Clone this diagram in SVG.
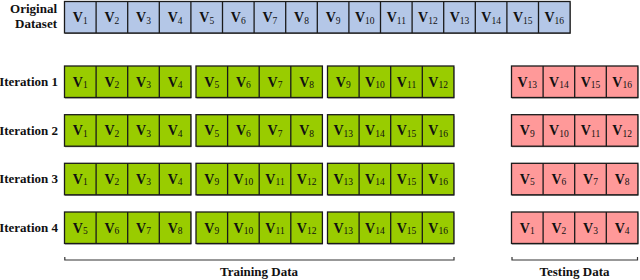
<svg xmlns="http://www.w3.org/2000/svg" width="640" height="280" viewBox="0 0 640 280" font-family="'Liberation Serif', 'Times New Roman', 'DejaVu Serif', serif">
<style>
.lbl{font-family:'Liberation Serif','Times New Roman','DejaVu Serif',serif;font-weight:bold;font-size:13px;fill:#111}
.v{font-family:'Liberation Serif','Times New Roman','DejaVu Serif',serif;font-weight:bold;font-size:14px;fill:#111;text-anchor:middle}
.s{font-weight:normal;font-size:9.5px}
.blue{fill:#b4c7e7;stroke:#1a1a1a;stroke-width:1.3}
.green{fill:#99cc00;stroke:#1a1a1a;stroke-width:1.3}
.pink{fill:#ff9999;stroke:#1a1a1a;stroke-width:1.3}
.sh{fill:#777}
.div{stroke:#1a1a1a;stroke-width:1.3}
.br{fill:none;stroke:#333;stroke-width:1.2}
</style>
<defs>
<g id="div4"><line class="div" x1="31.6" y1="0" x2="31.6" y2="31.5"/><line class="div" x1="63.2" y1="0" x2="63.2" y2="31.5"/><line class="div" x1="94.8" y1="0" x2="94.8" y2="31.5"/></g>
</defs>

<g id="labels">
<text class="lbl" x="57" y="13" text-anchor="end">Original</text>
<text class="lbl" x="57" y="28" text-anchor="end">Dataset</text>
<text class="lbl" x="58" y="86" text-anchor="end">Iteration 1</text>
<text class="lbl" x="58" y="134.5" text-anchor="end">Iteration 2</text>
<text class="lbl" x="58" y="183" text-anchor="end">Iteration 3</text>
<text class="lbl" x="58" y="232" text-anchor="end">Iteration 4</text>
</g>

<g id="original" transform="translate(64.5,1.5)">
<rect class="sh" x="0.5" y="1" width="505.6" height="31.5"/>
<rect class="blue" x="0" y="0" width="505.6" height="31.5"/>
<use href="#div4"/><use href="#div4" x="126.4"/><use href="#div4" x="252.8"/><use href="#div4" x="379.2"/>
<line class="div" x1="126.4" y1="0" x2="126.4" y2="31.5"/><line class="div" x1="252.8" y1="0" x2="252.8" y2="31.5"/><line class="div" x1="379.2" y1="0" x2="379.2" y2="31.5"/>
<text class="v" x="15.8" y="20.5">V<tspan class="s" dy="1.5">1</tspan></text>
<text class="v" x="47.4" y="20.5">V<tspan class="s" dy="1.5">2</tspan></text>
<text class="v" x="79" y="20.5">V<tspan class="s" dy="1.5">3</tspan></text>
<text class="v" x="110.6" y="20.5">V<tspan class="s" dy="1.5">4</tspan></text>
<text class="v" x="142.2" y="20.5">V<tspan class="s" dy="1.5">5</tspan></text>
<text class="v" x="173.8" y="20.5">V<tspan class="s" dy="1.5">6</tspan></text>
<text class="v" x="205.4" y="20.5">V<tspan class="s" dy="1.5">7</tspan></text>
<text class="v" x="237" y="20.5">V<tspan class="s" dy="1.5">8</tspan></text>
<text class="v" x="268.6" y="20.5">V<tspan class="s" dy="1.5">9</tspan></text>
<text class="v" x="300.2" y="20.5">V<tspan class="s" dy="1.5">10</tspan></text>
<text class="v" x="331.8" y="20.5">V<tspan class="s" dy="1.5">11</tspan></text>
<text class="v" x="363.4" y="20.5">V<tspan class="s" dy="1.5">12</tspan></text>
<text class="v" x="395" y="20.5">V<tspan class="s" dy="1.5">13</tspan></text>
<text class="v" x="426.6" y="20.5">V<tspan class="s" dy="1.5">14</tspan></text>
<text class="v" x="458.2" y="20.5">V<tspan class="s" dy="1.5">15</tspan></text>
<text class="v" x="489.8" y="20.5">V<tspan class="s" dy="1.5">16</tspan></text>
</g>

<!-- Iteration 1 -->
<g id="it1-a" transform="translate(64.5,66)"><rect class="sh" x="0.5" y="1" width="126.4" height="31.5"/><rect class="green" width="126.4" height="31.5"/><use href="#div4"/>
<text class="v" x="15.8" y="20.5">V<tspan class="s" dy="1.5">1</tspan></text><text class="v" x="47.4" y="20.5">V<tspan class="s" dy="1.5">2</tspan></text><text class="v" x="79" y="20.5">V<tspan class="s" dy="1.5">3</tspan></text><text class="v" x="110.6" y="20.5">V<tspan class="s" dy="1.5">4</tspan></text></g>
<g id="it1-b" transform="translate(196,66)"><rect class="sh" x="0.5" y="1" width="126.4" height="31.5"/><rect class="green" width="126.4" height="31.5"/><use href="#div4"/>
<text class="v" x="15.8" y="20.5">V<tspan class="s" dy="1.5">5</tspan></text><text class="v" x="47.4" y="20.5">V<tspan class="s" dy="1.5">6</tspan></text><text class="v" x="79" y="20.5">V<tspan class="s" dy="1.5">7</tspan></text><text class="v" x="110.6" y="20.5">V<tspan class="s" dy="1.5">8</tspan></text></g>
<g id="it1-c" transform="translate(327.5,66)"><rect class="sh" x="0.5" y="1" width="126.4" height="31.5"/><rect class="green" width="126.4" height="31.5"/><use href="#div4"/>
<text class="v" x="15.8" y="20.5">V<tspan class="s" dy="1.5">9</tspan></text><text class="v" x="47.4" y="20.5">V<tspan class="s" dy="1.5">10</tspan></text><text class="v" x="79" y="20.5">V<tspan class="s" dy="1.5">11</tspan></text><text class="v" x="110.6" y="20.5">V<tspan class="s" dy="1.5">12</tspan></text></g>
<g id="it1-t" transform="translate(511.5,66)"><rect class="sh" x="0.5" y="1" width="126.4" height="31.5"/><rect class="pink" width="126.4" height="31.5"/><use href="#div4"/>
<text class="v" x="15.8" y="20.5">V<tspan class="s" dy="1.5">13</tspan></text><text class="v" x="47.4" y="20.5">V<tspan class="s" dy="1.5">14</tspan></text><text class="v" x="79" y="20.5">V<tspan class="s" dy="1.5">15</tspan></text><text class="v" x="110.6" y="20.5">V<tspan class="s" dy="1.5">16</tspan></text></g>

<!-- Iteration 2 -->
<g id="it2-a" transform="translate(64.5,114.7)"><rect class="sh" x="0.5" y="1" width="126.4" height="31.5"/><rect class="green" width="126.4" height="31.5"/><use href="#div4"/>
<text class="v" x="15.8" y="20.5">V<tspan class="s" dy="1.5">1</tspan></text><text class="v" x="47.4" y="20.5">V<tspan class="s" dy="1.5">2</tspan></text><text class="v" x="79" y="20.5">V<tspan class="s" dy="1.5">3</tspan></text><text class="v" x="110.6" y="20.5">V<tspan class="s" dy="1.5">4</tspan></text></g>
<g id="it2-b" transform="translate(196,114.7)"><rect class="sh" x="0.5" y="1" width="126.4" height="31.5"/><rect class="green" width="126.4" height="31.5"/><use href="#div4"/>
<text class="v" x="15.8" y="20.5">V<tspan class="s" dy="1.5">5</tspan></text><text class="v" x="47.4" y="20.5">V<tspan class="s" dy="1.5">6</tspan></text><text class="v" x="79" y="20.5">V<tspan class="s" dy="1.5">7</tspan></text><text class="v" x="110.6" y="20.5">V<tspan class="s" dy="1.5">8</tspan></text></g>
<g id="it2-c" transform="translate(327.5,114.7)"><rect class="sh" x="0.5" y="1" width="126.4" height="31.5"/><rect class="green" width="126.4" height="31.5"/><use href="#div4"/>
<text class="v" x="15.8" y="20.5">V<tspan class="s" dy="1.5">13</tspan></text><text class="v" x="47.4" y="20.5">V<tspan class="s" dy="1.5">14</tspan></text><text class="v" x="79" y="20.5">V<tspan class="s" dy="1.5">15</tspan></text><text class="v" x="110.6" y="20.5">V<tspan class="s" dy="1.5">16</tspan></text></g>
<g id="it2-t" transform="translate(511.5,114.7)"><rect class="sh" x="0.5" y="1" width="126.4" height="31.5"/><rect class="pink" width="126.4" height="31.5"/><use href="#div4"/>
<text class="v" x="15.8" y="20.5">V<tspan class="s" dy="1.5">9</tspan></text><text class="v" x="47.4" y="20.5">V<tspan class="s" dy="1.5">10</tspan></text><text class="v" x="79" y="20.5">V<tspan class="s" dy="1.5">11</tspan></text><text class="v" x="110.6" y="20.5">V<tspan class="s" dy="1.5">12</tspan></text></g>

<!-- Iteration 3 -->
<g id="it3-a" transform="translate(64.5,163.3)"><rect class="sh" x="0.5" y="1" width="126.4" height="31.5"/><rect class="green" width="126.4" height="31.5"/><use href="#div4"/>
<text class="v" x="15.8" y="20.5">V<tspan class="s" dy="1.5">1</tspan></text><text class="v" x="47.4" y="20.5">V<tspan class="s" dy="1.5">2</tspan></text><text class="v" x="79" y="20.5">V<tspan class="s" dy="1.5">3</tspan></text><text class="v" x="110.6" y="20.5">V<tspan class="s" dy="1.5">4</tspan></text></g>
<g id="it3-b" transform="translate(196,163.3)"><rect class="sh" x="0.5" y="1" width="126.4" height="31.5"/><rect class="green" width="126.4" height="31.5"/><use href="#div4"/>
<text class="v" x="15.8" y="20.5">V<tspan class="s" dy="1.5">9</tspan></text><text class="v" x="47.4" y="20.5">V<tspan class="s" dy="1.5">10</tspan></text><text class="v" x="79" y="20.5">V<tspan class="s" dy="1.5">11</tspan></text><text class="v" x="110.6" y="20.5">V<tspan class="s" dy="1.5">12</tspan></text></g>
<g id="it3-c" transform="translate(327.5,163.3)"><rect class="sh" x="0.5" y="1" width="126.4" height="31.5"/><rect class="green" width="126.4" height="31.5"/><use href="#div4"/>
<text class="v" x="15.8" y="20.5">V<tspan class="s" dy="1.5">13</tspan></text><text class="v" x="47.4" y="20.5">V<tspan class="s" dy="1.5">14</tspan></text><text class="v" x="79" y="20.5">V<tspan class="s" dy="1.5">15</tspan></text><text class="v" x="110.6" y="20.5">V<tspan class="s" dy="1.5">16</tspan></text></g>
<g id="it3-t" transform="translate(511.5,163.3)"><rect class="sh" x="0.5" y="1" width="126.4" height="31.5"/><rect class="pink" width="126.4" height="31.5"/><use href="#div4"/>
<text class="v" x="15.8" y="20.5">V<tspan class="s" dy="1.5">5</tspan></text><text class="v" x="47.4" y="20.5">V<tspan class="s" dy="1.5">6</tspan></text><text class="v" x="79" y="20.5">V<tspan class="s" dy="1.5">7</tspan></text><text class="v" x="110.6" y="20.5">V<tspan class="s" dy="1.5">8</tspan></text></g>

<!-- Iteration 4 -->
<g id="it4-a" transform="translate(64.5,212)"><rect class="sh" x="0.5" y="1" width="126.4" height="31.5"/><rect class="green" width="126.4" height="31.5"/><use href="#div4"/>
<text class="v" x="15.8" y="20.5">V<tspan class="s" dy="1.5">5</tspan></text><text class="v" x="47.4" y="20.5">V<tspan class="s" dy="1.5">6</tspan></text><text class="v" x="79" y="20.5">V<tspan class="s" dy="1.5">7</tspan></text><text class="v" x="110.6" y="20.5">V<tspan class="s" dy="1.5">8</tspan></text></g>
<g id="it4-b" transform="translate(196,212)"><rect class="sh" x="0.5" y="1" width="126.4" height="31.5"/><rect class="green" width="126.4" height="31.5"/><use href="#div4"/>
<text class="v" x="15.8" y="20.5">V<tspan class="s" dy="1.5">9</tspan></text><text class="v" x="47.4" y="20.5">V<tspan class="s" dy="1.5">10</tspan></text><text class="v" x="79" y="20.5">V<tspan class="s" dy="1.5">11</tspan></text><text class="v" x="110.6" y="20.5">V<tspan class="s" dy="1.5">12</tspan></text></g>
<g id="it4-c" transform="translate(327.5,212)"><rect class="sh" x="0.5" y="1" width="126.4" height="31.5"/><rect class="green" width="126.4" height="31.5"/><use href="#div4"/>
<text class="v" x="15.8" y="20.5">V<tspan class="s" dy="1.5">13</tspan></text><text class="v" x="47.4" y="20.5">V<tspan class="s" dy="1.5">14</tspan></text><text class="v" x="79" y="20.5">V<tspan class="s" dy="1.5">15</tspan></text><text class="v" x="110.6" y="20.5">V<tspan class="s" dy="1.5">16</tspan></text></g>
<g id="it4-t" transform="translate(511.5,212)"><rect class="sh" x="0.5" y="1" width="126.4" height="31.5"/><rect class="pink" width="126.4" height="31.5"/><use href="#div4"/>
<text class="v" x="15.8" y="20.5">V<tspan class="s" dy="1.5">1</tspan></text><text class="v" x="47.4" y="20.5">V<tspan class="s" dy="1.5">2</tspan></text><text class="v" x="79" y="20.5">V<tspan class="s" dy="1.5">3</tspan></text><text class="v" x="110.6" y="20.5">V<tspan class="s" dy="1.5">4</tspan></text></g>

<g id="brackets">
<path class="br" d="M64.8,257 V260 H454 V257"/>
<path class="br" d="M512,257 V260 H637.5 V257"/>
<text class="lbl" x="259" y="276" text-anchor="middle">Training Data</text>
<text class="lbl" x="574.5" y="276" text-anchor="middle">Testing Data</text>
</g>
</svg>
